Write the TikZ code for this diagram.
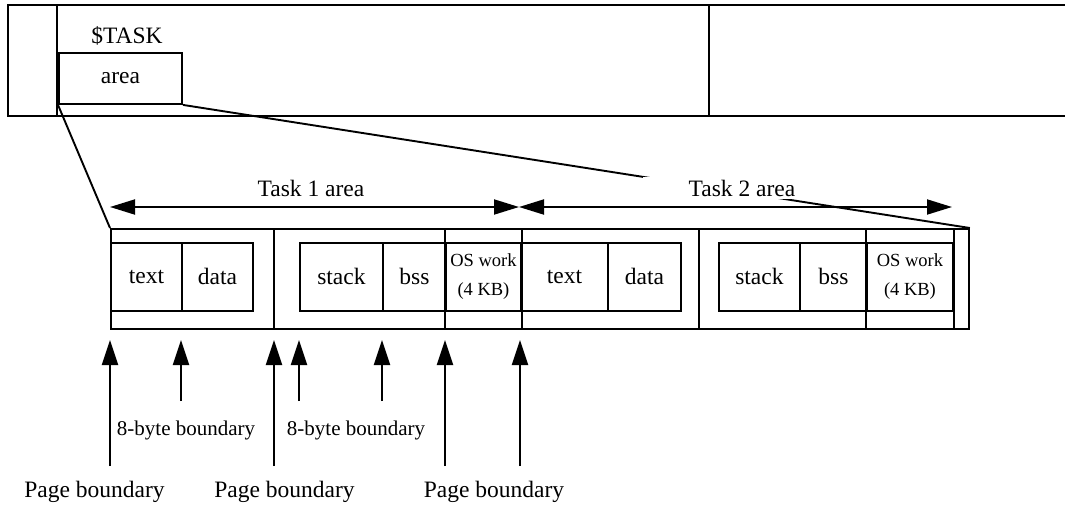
\documentclass[tikz,border=0pt]{standalone}
\usepackage{fontspec}
\setmainfont{Liberation Serif}
\usetikzlibrary{arrows.meta}
\begin{document}
\begin{tikzpicture}[x=1pt,y=-1pt, line width=1.9pt,
  cell/.style={draw, inner sep=0pt, anchor=north west, minimum height=68pt,
    font=\fontsize{23.5}{26}\selectfont},
  oscell/.style={cell, align=center, font=\fontsize{18.5}{29}\selectfont},
  lbl/.style={font=\fontsize{23.5}{26}\selectfont, inner sep=0pt},
  note/.style={font=\fontsize{21}{24}\selectfont, inner sep=0pt, anchor=west},
  tip/.style={-{Triangle[length=25pt,width=16pt]}},
  span/.style={{Triangle[length=25pt,width=15pt]}-{Triangle[length=25pt,width=15pt]}},
]
\useasboundingbox (0,0) rectangle (1065,504);

% process table strip at the top
\draw[line width=2.2pt] (1066,5) -- (8,5) -- (8,116) -- (1066,116);
\draw[line width=2.2pt] (57,5) -- (57,116);
\draw[line width=2.2pt] (709,5) -- (709,116);
\node[lbl] (tasklbl) at (127,36) {\$TASK};
\node[draw, inner sep=0pt, anchor=north west, minimum width=123pt, minimum height=51pt,
  font=\fontsize{23.5}{26}\selectfont] (area) at (58,52) {area};

% memory layout of the task areas
\node[draw, inner sep=0pt, anchor=north west, minimum width=858pt, minimum height=100pt] (mem) at (110,228) {};

\node[cell, minimum width=71pt] (text1) at (110,242) {text};
\node[cell, minimum width=71pt] (data1) at (181,242) {data};
\node[cell, minimum width=83pt] (stack1) at (299,242) {stack};
\node[cell, minimum width=63pt] (bss1) at (382,242) {bss};
\node[oscell, minimum width=75pt] (os1) at (445,242) {OS work\\(4 KB)};

\node[cell, minimum width=87pt] (text2) at (520,242) {text};
\node[cell, minimum width=73pt] (data2) at (607,242) {data};
\node[cell, minimum width=81pt] (stack2) at (718,242) {stack};
\node[cell, minimum width=67pt] (bss2) at (799,242) {bss};
\node[oscell, minimum width=86pt] (os2) at (866,242) {OS work\\(4 KB)};

% page divisions through the full height
\coordinate (pg1) at (274,228);
\coordinate (pg2) at (699,228);
\draw (pg1) -- (pg1 |- mem.south);
\draw (os1.north west |- mem.north) -- (os1.north west |- mem.south);
\draw (os1.north east |- mem.north) -- (os1.north east |- mem.south);
\draw (pg2) -- (pg2 |- mem.south);
\draw (os2.north west |- mem.north) -- (os2.north west |- mem.south);
\draw (os2.north east |- mem.north) -- (os2.north east |- mem.south);

% expansion lines from the $TASK area
\draw (area.south west) -- (mem.north west);
\draw (area.south east) -- (mem.north east);

% task extents
\node[lbl] (t1lbl) at (311,188) {Task 1 area};
\node[lbl, fill=white, minimum width=198pt, minimum height=22pt] (t2lbl) at (742,188) {Task 2 area};
\coordinate (a1l) at (110,207);
\coordinate (a1r) at (519,207);
\coordinate (a2r) at (952,207);
\draw[span] (a1l) -- (a1r);
\draw[span] (a1r) -- (a2r);

% boundary markers
\foreach \x/\n in {110/p1, 274/p2, 445/p3, 520/p4} {
  \coordinate (\n b) at (\x,466);
  \coordinate (\n t) at (\x,340);
  \draw[tip] (\n b) -- (\n t);
}
\foreach \x/\n in {181/q1, 299/q2, 382/q3} {
  \coordinate (\n b) at (\x,401);
  \coordinate (\n t) at (\x,340);
  \draw[tip] (\n b) -- (\n t);
}

\node[note] (b8a) at (116,430) {8-byte boundary};
\node[note] (b8b) at (286,430) {8-byte boundary};
\node[lbl] (pba) at (94.5,492) {Page boundary};
\node[lbl] (pbb) at (284.5,492) {Page boundary};
\node[lbl] (pbc) at (494,492) {Page boundary};
\end{tikzpicture}
\end{document}
